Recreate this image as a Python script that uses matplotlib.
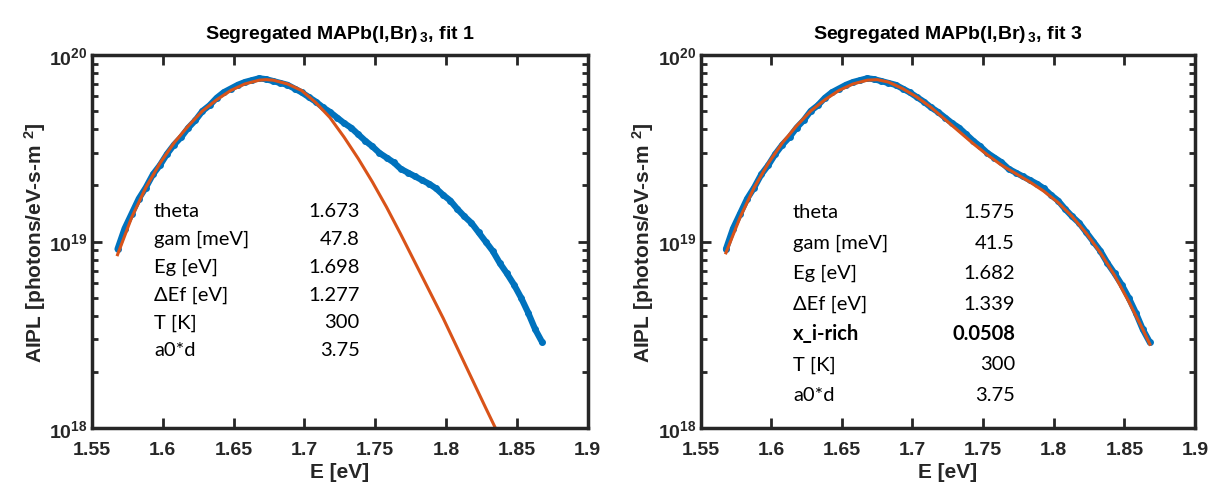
import numpy as np
import matplotlib.pyplot as plt

E_data = [1.568, 1.573, 1.578, 1.583, 1.588, 1.593, 1.598, 1.603, 1.608, 1.613,
          1.618, 1.623, 1.628, 1.633, 1.638, 1.643, 1.648, 1.653, 1.658, 1.663,
          1.668, 1.673, 1.678, 1.683, 1.688, 1.693, 1.698, 1.703, 1.708, 1.713,
          1.718, 1.723, 1.728, 1.733, 1.738, 1.743, 1.748, 1.753, 1.758, 1.763,
          1.768, 1.773, 1.778, 1.783, 1.788, 1.793, 1.798, 1.803, 1.808, 1.813,
          1.818, 1.823, 1.828, 1.833, 1.838, 1.843, 1.848, 1.853, 1.858, 1.863,
          1.868]
logI_data = [18.96, 19.07, 19.15, 19.23, 19.29, 19.36, 19.41, 19.47, 19.52, 19.56,
             19.61, 19.65, 19.70, 19.73, 19.77, 19.80, 19.82, 19.84, 19.855, 19.865,
             19.875, 19.87, 19.86, 19.85, 19.84, 19.82, 19.80, 19.775, 19.75, 19.72,
             19.695, 19.665, 19.635, 19.61, 19.575, 19.54, 19.51, 19.475, 19.45, 19.425,
             19.39, 19.37, 19.35, 19.33, 19.31, 19.285, 19.25, 19.22, 19.175, 19.135,
             19.10, 19.05, 19.00, 18.95, 18.885, 18.83, 18.77, 18.70, 18.62, 18.53,
             18.46]

# fit 1 (single phase)
E_fit1 = [1.568, 1.578, 1.588, 1.598, 1.608, 1.618, 1.628, 1.638, 1.648, 1.658,
          1.668, 1.673, 1.678, 1.688, 1.698, 1.708, 1.718, 1.728, 1.738, 1.748,
          1.758, 1.768, 1.778, 1.788, 1.798, 1.808, 1.818, 1.828, 1.835]
logI_fit1 = [18.93, 19.13, 19.29, 19.42, 19.53, 19.62, 19.70, 19.76, 19.81, 19.845,
             19.865, 19.868, 19.865, 19.845, 19.81, 19.745, 19.665, 19.56, 19.445, 19.32,
             19.185, 19.04, 18.89, 18.74, 18.59, 18.43, 18.27, 18.11, 18.00]

# fit 3 (with I-rich phase)
E_fit3 = [1.568, 1.578, 1.588, 1.598, 1.608, 1.618, 1.628, 1.638, 1.648, 1.658,
          1.668, 1.675, 1.683, 1.693, 1.703, 1.713, 1.723, 1.733, 1.743, 1.753,
          1.763, 1.773, 1.783, 1.793, 1.803, 1.813, 1.823, 1.833, 1.843, 1.853,
          1.863, 1.868]
logI_fit3 = [18.94, 19.13, 19.29, 19.42, 19.53, 19.62, 19.70, 19.76, 19.81, 19.845,
             19.865, 19.868, 19.855, 19.82, 19.775, 19.72, 19.655, 19.59, 19.525, 19.465,
             19.41, 19.365, 19.32, 19.27, 19.21, 19.135, 19.045, 18.94, 18.82, 18.68,
             18.53, 18.45]

params1_names = ['theta', 'gam [meV]', 'Eg [eV]', 'ΔEf [eV]', 'T [K]', 'a0*d']
params1_vals = ['1.673', '47.8', '1.698', '1.277', '300', '3.75']
params3_names = ['theta', 'gam [meV]', 'Eg [eV]', 'ΔEf [eV]', 'x_i-rich', 'T [K]', 'a0*d']
params3_vals = ['1.575', '41.5', '1.682', '1.339', '0.0508', '300', '3.75']
params3_bold = 'x_i-rich'

xticks = [1.55, 1.6, 1.65, 1.7, 1.75, 1.8, 1.85, 1.9]
xtick_labels = ['1.55', '1.6', '1.65', '1.7', '1.75', '1.8', '1.85', '1.9']

plt.rcParams['font.family'] = ['Liberation Sans', 'DejaVu Sans']
plt.rcParams['mathtext.fontset'] = 'custom'
plt.rcParams['mathtext.bf'] = 'Liberation Sans:bold'
plt.rcParams['mathtext.rm'] = 'Liberation Sans:bold'
plt.rcParams['mathtext.default'] = 'bf'

BLUE = '#0072BD'
ORANGE = '#D95319'
DARK = '#262626'

fig = plt.figure(figsize=(12.08, 4.89), dpi=100)
ax1 = fig.add_axes([0.0762, 0.1221, 0.4102, 0.7634])
ax2 = fig.add_axes([0.5799, 0.1221, 0.4094, 0.7634])


def style_axes(ax, title):
    ax.set_yscale('log')
    ax.set_xlim(1.55, 1.9)
    ax.set_ylim(1e18, 1e20)
    ax.set_xticks(xticks)
    ax.set_xticklabels(xtick_labels)
    ax.set_yticks([1e18, 1e19, 1e20])
    ax.tick_params(which='both', direction='in', top=True, right=True,
                   colors=DARK, labelcolor=DARK, width=2)
    ax.tick_params(which='major', length=7, labelsize=14)
    ax.tick_params(axis='x', which='major', pad=9)
    ax.tick_params(axis='y', which='major', pad=3)
    ax.tick_params(which='minor', length=4)
    for lab in ax.get_xticklabels() + ax.get_yticklabels():
        lab.set_fontweight('bold')
    for s in ax.spines.values():
        s.set_linewidth(2.5)
        s.set_color(DARK)
    ax.set_xlabel('E [eV]', fontsize=15, fontweight='bold', color=DARK, labelpad=3)
    ax.set_ylabel('AIPL [photons/eV-s-m $^2$]', fontsize=15, fontweight='bold',
                  color=DARK, labelpad=1)
    ax.set_title(title, fontsize=14, fontweight='bold', pad=12)


def draw_table(ax, names, vals, x_name, x_val, y0, dy, bold_name=None):
    for i, (n, v) in enumerate(zip(names, vals)):
        w = 'bold' if n == bold_name else 'normal'
        y = y0 - i * dy
        ax.text(x_name, y, n, transform=ax.transAxes, fontsize=14.5,
                family=['Lato', 'DejaVu Sans'], fontweight=w, va='center', ha='left')
        ax.text(x_val, y, v, transform=ax.transAxes, fontsize=14.5,
                family=['Lato', 'DejaVu Sans'], fontweight=w, va='center', ha='right')


I_data = 10 ** np.array(logI_data)

# left panel
ax1.plot(E_data, I_data, '-', color=BLUE, lw=4.5, solid_capstyle='round')
ax1.plot(E_data, I_data, 'o', color=BLUE, ms=5, mew=0)
ax1.plot(E_fit1, 10 ** np.array(logI_fit1), '-', color=ORANGE, lw=2.2)
style_axes(ax1, 'Segregated MAPb(I,Br)$_{\\,3}$, fit 1')
draw_table(ax1, params1_names, params1_vals, 0.125, 0.54, 0.583, 0.0745)

# right panel
ax2.plot(E_data, I_data, '-', color=BLUE, lw=4.5, solid_capstyle='round')
ax2.plot(E_data, I_data, 'o', color=BLUE, ms=5, mew=0)
ax2.plot(E_fit3, 10 ** np.array(logI_fit3), '-', color=ORANGE, lw=2.2)
style_axes(ax2, 'Segregated MAPb(I,Br)$_{\\,3}$, fit 3')
draw_table(ax2, params3_names, params3_vals, 0.187, 0.636, 0.58, 0.0815,
           bold_name=params3_bold)

fig.savefig('out.png', dpi=100)
